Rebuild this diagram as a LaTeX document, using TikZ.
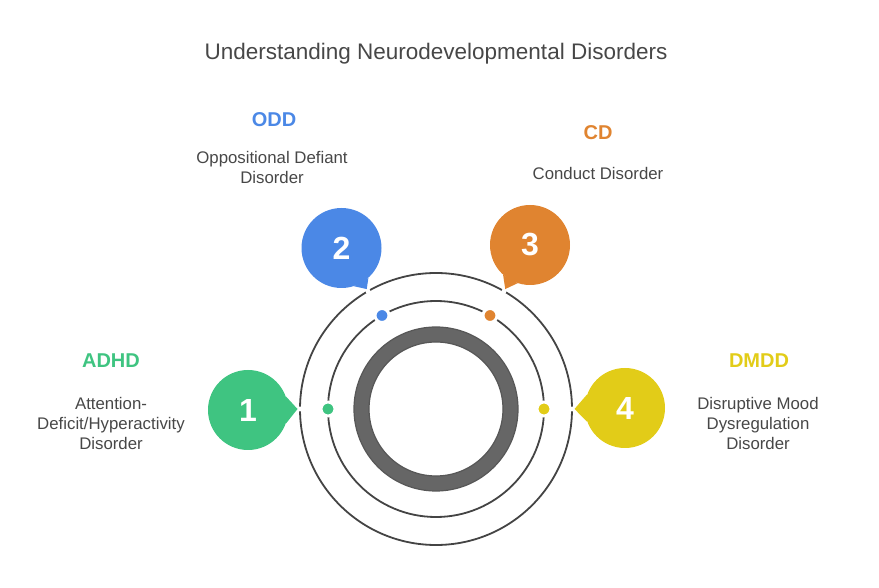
\documentclass[tikz,border=0pt]{standalone}
\usepackage{fontspec}
\setmainfont{Liberation Sans}
\usepackage{xcolor}
\usepackage{tikz}
\usetikzlibrary{calc, positioning}
\definecolor{adhdGreen}{HTML}{3FC481}
\definecolor{oddBlue}{HTML}{4B88E6}
\definecolor{cdOrange}{HTML}{E08430}
\definecolor{dmddYellow}{HTML}{E2CC18}
\definecolor{textGray}{HTML}{474747}
\definecolor{lineGray}{HTML}{444444}
\definecolor{coreGray}{HTML}{666666}
\tikzset{
    title/.style={font=\fontsize{22.5}{27}\selectfont, text=textGray},
    orbit/.style={draw=lineGray, line width=1.8pt},
    core/.style={draw=coreGray, line width=15pt},
    coreEdge/.style={draw=lineGray!90, line width=1.2pt},
    dot/.style={circle, minimum size=14pt, inner sep=0pt, draw=white, line width=3pt},
    bubble/.style={circle, minimum size=80pt, inner sep=0pt, text=white, font=\fontsize{32}{32}\selectfont\bfseries},
    head/.style={font=\fontsize{20}{24}\selectfont\bfseries},
    desc/.style={font=\fontsize{16.8}{20}\selectfont, text=textGray, align=center}
}
\begin{document}
\begin{tikzpicture}[x=1pt, y=1pt]
    \useasboundingbox (0,0) rectangle (879,587);
    \coordinate (C) at (436,178);

    % Title
    \node[title] (T) at (436,533) {Understanding Neurodevelopmental Disorders};

    % Rings
    \draw[orbit] (C) circle[radius=136];
    \draw[orbit] (C) circle[radius=108];
    \draw[core] (C) circle[radius=74.5];
    \draw[coreEdge] (C) circle[radius=82] (C) circle[radius=67];

    % Dots on the middle ring
    \node[dot, fill=adhdGreen] (d1) at ($(C)+(180:108)$) {};
    \node[dot, fill=oddBlue] (d2) at ($(C)+(120:108)$) {};
    \node[dot, fill=cdOrange] (d3) at ($(C)+(60:108)$) {};
    \node[dot, fill=dmddYellow] (d4) at ($(C)+(0:108)$) {};

    % Tips on the outer ring
    \foreach \ang/\idx in {180/1, 120/2, 60/3, 0/4} {
        \fill[white] ($(C)+(\ang:136)$) circle[radius=2.5];
        \coordinate (t\idx) at ($(C)+(\ang:138.5)$);
    }

    % Bubbles
    \node[bubble, fill=adhdGreen] (b1) at (248,177) {1};
    \node[bubble, fill=oddBlue] (b2) at (341.5,339) {2};
    \node[bubble, fill=cdOrange] (b3) at (530,342) {3};
    \node[bubble, fill=dmddYellow] (b4) at (625,179) {4};

    % Tails
    \fill[adhdGreen] (b1.20) -- (t1) -- (b1.-20) -- cycle;
    \fill[oddBlue] (b2.-48) -- (t2) -- (b2.-72) -- cycle;
    \fill[cdOrange] (b3.-108) -- (t3) -- (b3.-132) -- cycle;
    \fill[dmddYellow] (b4.160) -- (t4) -- (b4.200) -- cycle;

    % Labels
    \node[head, text=adhdGreen] (h1) at (111,226) {ADHD};
    \node[desc] (l1) at (111,164) {Attention-\\Deficit/Hyperactivity\\Disorder};
    \node[head, text=oddBlue] (h2) at (274,467) {ODD};
    \node[desc] (l2) at (272,420) {Oppositional Defiant\\Disorder};
    \node[head, text=cdOrange] (h3) at (598,454) {CD};
    \node[desc] (l3) at (598,414) {Conduct Disorder};
    \node[head, text=dmddYellow] (h4) at (759,226) {DMDD};
    \node[desc] (l4) at (758,164) {Disruptive Mood\\Dysregulation\\Disorder};
\end{tikzpicture}
\end{document}
